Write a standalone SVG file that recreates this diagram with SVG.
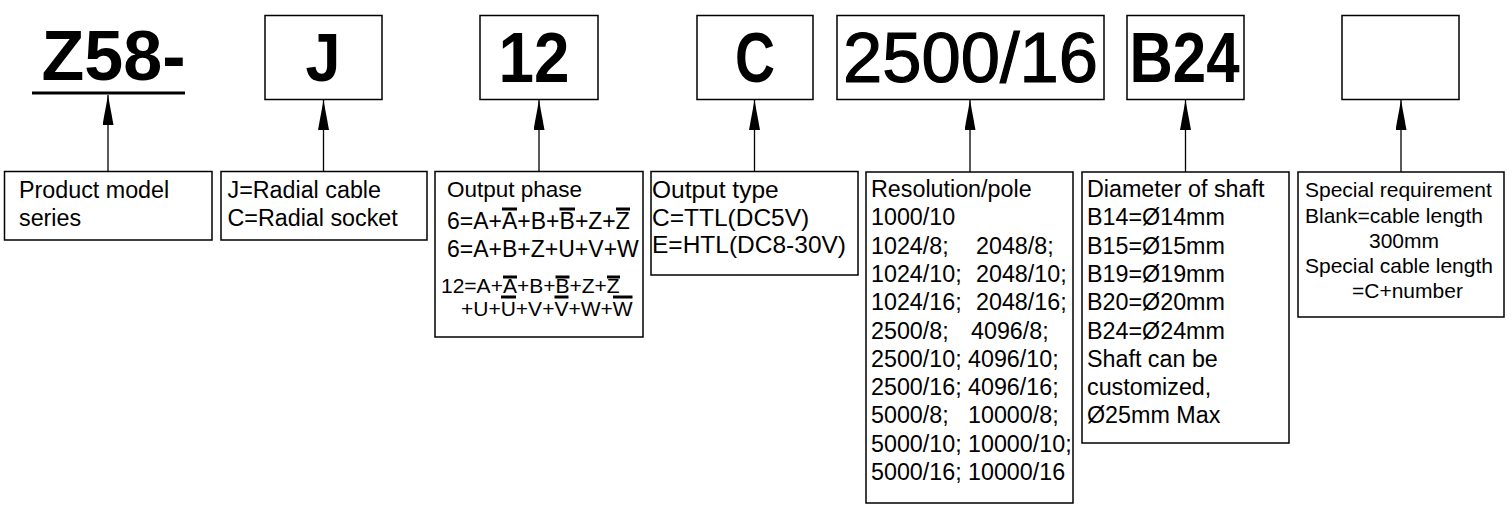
<svg xmlns="http://www.w3.org/2000/svg" width="1512" height="512" viewBox="0 0 1512 512">
<defs>
<style>
.box{fill:none;stroke:#000;stroke-width:1.5}
.conn{stroke:#000;stroke-width:1.3;fill:none}
.t{font-family:"Liberation Sans",Arial,sans-serif;fill:#000}
.big{font-size:71px;font-weight:bold}
.s{font-size:23.3px}
.ov{stroke:#000;stroke-width:3}
</style>
<marker id="ah" viewBox="0 0 30 11" refX="30" refY="5.5" markerWidth="30" markerHeight="11" markerUnits="userSpaceOnUse" orient="auto"><path d="M0,0L30,5.5L0,11z" fill="#000"/></marker>
</defs>
<rect width="1512" height="512" fill="#fff"/>

<g id="code-series">
<text class="t big" x="41.6" y="80" textLength="144" lengthAdjust="spacingAndGlyphs">Z58-</text>
<line x1="32" y1="93" x2="185" y2="93" stroke="#000" stroke-width="3"/>
</g>
<g id="code-connection">
<rect class="box" x="265" y="15.5" width="117" height="84"/>
<text class="t big" style="font-size:68px" x="305.5" y="81" textLength="35" lengthAdjust="spacingAndGlyphs">J</text>
</g>
<g id="code-phase">
<rect class="box" x="480" y="15.5" width="118" height="84"/>
<text class="t big" x="498.5" y="82" textLength="71" lengthAdjust="spacingAndGlyphs">12</text>
</g>
<g id="code-output">
<rect class="box" x="697" y="15.5" width="116" height="84"/>
<text class="t big" x="735" y="82" textLength="40" lengthAdjust="spacingAndGlyphs">C</text>
</g>
<g id="code-resolution">
<rect class="box" x="837" y="15.5" width="267" height="84"/>
<text class="t" style="font-size:71px" stroke="#000" stroke-width="1.2" x="843" y="82" textLength="255" lengthAdjust="spacingAndGlyphs">2500/16</text>
</g>
<g id="code-shaft">
<rect class="box" x="1127" y="15.5" width="117" height="84"/>
<text class="t big" x="1129.5" y="82" textLength="110" lengthAdjust="spacingAndGlyphs">B24</text>
</g>
<g id="code-special">
<rect class="box" x="1342" y="15.5" width="117" height="84"/>
</g>

<g id="desc-series">
<rect class="box" x="4.5" y="171.5" width="207.5" height="68.5"/>
<text class="t s" x="19" y="198">Product model</text>
<text class="t s" x="19" y="226">series</text>
</g>
<g id="desc-connection">
<rect class="box" x="221" y="171.5" width="206" height="68.5"/>
<text class="t s" x="227.5" y="198">J=Radial cable</text>
<text class="t s" x="227.5" y="226">C=Radial socket</text>
</g>
<g id="desc-phase">
<rect class="box" x="435" y="171.5" width="208" height="165.5"/>
<text class="t" style="font-size:22.5px" x="447" y="197">Output phase</text>
<text class="t" style="font-size:23px" x="447" y="229">6=A+A+B+B+Z+Z</text>
<text class="t" style="font-size:23px" x="447" y="257">6=A+B+Z+U+V+W</text>
<text class="t" style="font-size:21px" x="441" y="293">12=A+A+B+B+Z+Z</text>
<text class="t" style="font-size:21px" x="461" y="316">+U+U+V+V+W+W</text>
<line class="ov" x1="502" y1="209" x2="517" y2="209"/>
<line class="ov" x1="559.5" y1="209" x2="575" y2="209"/>
<line class="ov" x1="616" y1="209" x2="630" y2="209"/>
<line class="ov" x1="503" y1="277" x2="517" y2="277"/>
<line class="ov" x1="555.5" y1="277" x2="569.5" y2="277"/>
<line class="ov" x1="607" y1="277" x2="620" y2="277"/>
<line class="ov" x1="501" y1="297" x2="516" y2="297"/>
<line class="ov" x1="554.5" y1="297" x2="568.5" y2="297"/>
<line class="ov" x1="613" y1="297" x2="632.5" y2="297"/>
</g>
<g id="desc-output">
<rect class="box" x="651" y="171.5" width="207" height="103.5"/>
<text class="t" style="font-size:24.5px" x="652" y="198">Output type</text>
<text class="t" style="font-size:24.5px" x="652" y="226">C=TTL(DC5V)</text>
<text class="t" style="font-size:24.5px" x="652" y="253">E=HTL(DC8-30V)</text>
</g>
<g id="desc-resolution">
<rect class="box" x="866" y="172" width="207" height="331"/>
<text class="t s" x="871" y="197">Resolution/pole</text>
<text class="t s" x="871" y="225.3">1000/10</text>
<text class="t s" y="253.6"><tspan x="871">1024/8;</tspan><tspan x="976">2048/8;</tspan></text>
<text class="t s" y="281.9"><tspan x="871">1024/10;</tspan><tspan x="976">2048/10;</tspan></text>
<text class="t s" y="310.2"><tspan x="871">1024/16;</tspan><tspan x="976">2048/16;</tspan></text>
<text class="t s" y="338.5"><tspan x="871">2500/8;</tspan><tspan x="971">4096/8;</tspan></text>
<text class="t s" y="366.8"><tspan x="871">2500/10;</tspan><tspan x="968">4096/10;</tspan></text>
<text class="t s" y="395.1"><tspan x="871">2500/16;</tspan><tspan x="968">4096/16;</tspan></text>
<text class="t s" y="423.4"><tspan x="871">5000/8;</tspan><tspan x="968">10000/8;</tspan></text>
<text class="t s" y="451.7"><tspan x="871">5000/10;</tspan><tspan x="968">10000/10;</tspan></text>
<text class="t s" y="480"><tspan x="871">5000/16;</tspan><tspan x="968">10000/16</tspan></text>
</g>
<g id="desc-shaft">
<rect class="box" x="1082" y="172" width="207" height="271"/>
<text class="t s" x="1087" y="197">Diameter of shaft</text>
<text class="t s" x="1087" y="225.3">B14=Ø14mm</text>
<text class="t s" x="1087" y="253.6">B15=Ø15mm</text>
<text class="t s" x="1087" y="281.9">B19=Ø19mm</text>
<text class="t s" x="1087" y="310.2">B20=Ø20mm</text>
<text class="t s" x="1087" y="338.5">B24=Ø24mm</text>
<text class="t s" x="1087" y="366.8">Shaft can be</text>
<text class="t s" x="1087" y="395.1">customized,</text>
<text class="t s" x="1087" y="423.4">Ø25mm Max</text>
</g>
<g id="desc-special">
<rect class="box" x="1298" y="172" width="206" height="145"/>
<text class="t" style="font-size:21px" x="1305" y="197">Special requirement</text>
<text class="t" style="font-size:21px" x="1305" y="223">Blank=cable length</text>
<text class="t" style="font-size:21px" x="1369" y="248">300mm</text>
<text class="t" style="font-size:21px" x="1305" y="273">Special cable length</text>
<text class="t" style="font-size:21px" x="1352" y="298">=C+number</text>
</g>

<g id="connectors">
<line class="conn" x1="108" y1="171.5" x2="108" y2="95" marker-end="url(#ah)"/>
<line class="conn" x1="323.5" y1="171.5" x2="323.5" y2="100" marker-end="url(#ah)"/>
<line class="conn" x1="539" y1="171.5" x2="539" y2="100" marker-end="url(#ah)"/>
<line class="conn" x1="754.5" y1="171.5" x2="754.5" y2="100" marker-end="url(#ah)"/>
<line class="conn" x1="970" y1="172" x2="970" y2="100" marker-end="url(#ah)"/>
<line class="conn" x1="1185.5" y1="172" x2="1185.5" y2="100" marker-end="url(#ah)"/>
<line class="conn" x1="1401" y1="172" x2="1401" y2="100" marker-end="url(#ah)"/>
</g>
</svg>
